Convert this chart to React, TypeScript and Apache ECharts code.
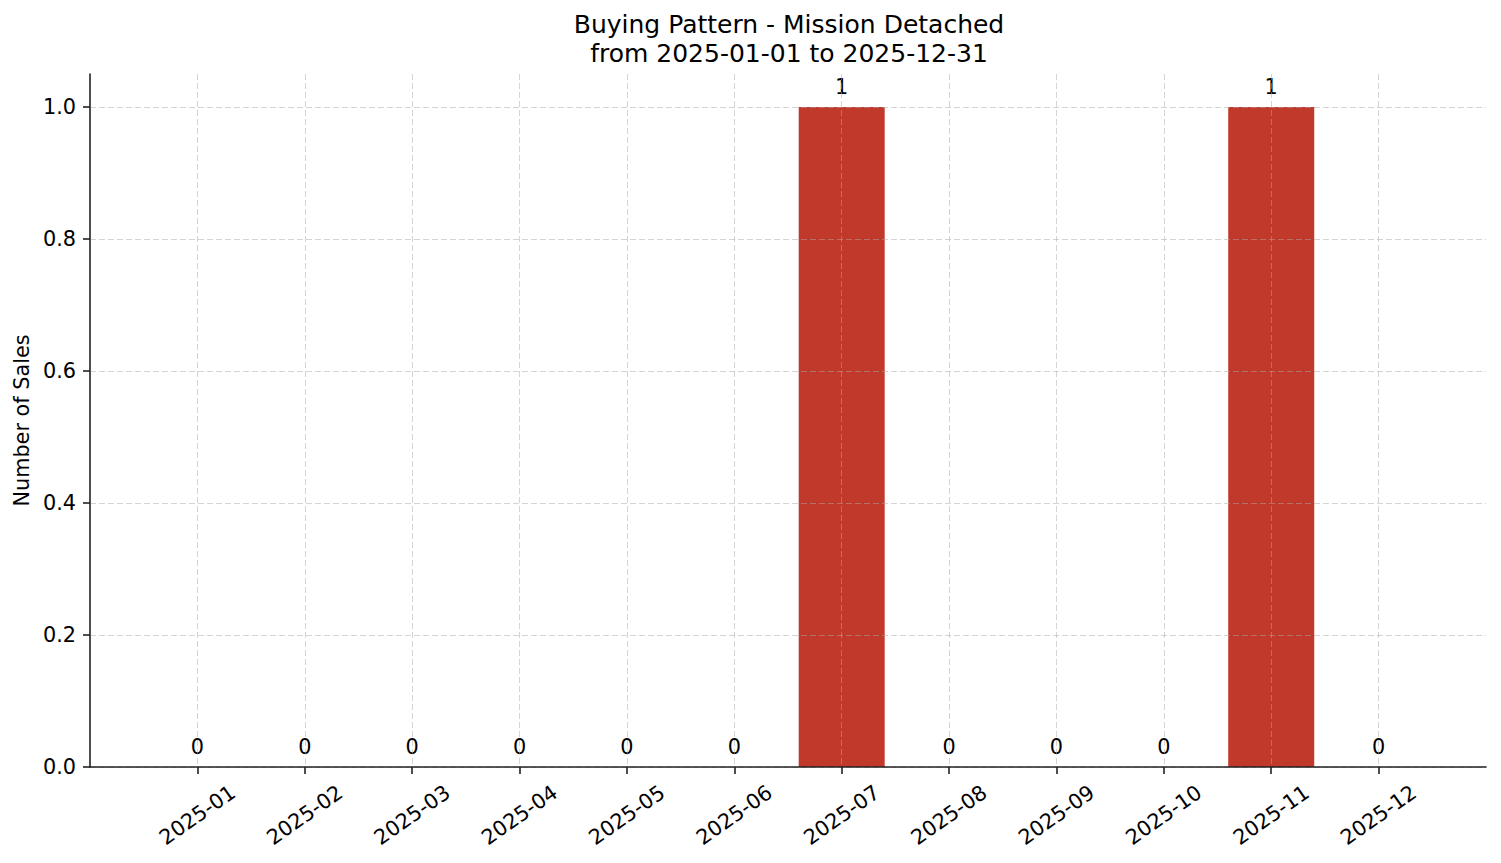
import React, { useEffect, useRef } from "react";
import * as echarts from "echarts";

const months = [
  "2025-01", "2025-02", "2025-03", "2025-04", "2025-05", "2025-06",
  "2025-07", "2025-08", "2025-09", "2025-10", "2025-11", "2025-12",
];
const sales = [0, 0, 0, 0, 0, 0, 1, 0, 0, 0, 1, 0];
const yTicks = [0, 0.2, 0.4, 0.6, 0.8, 1.0];
const titleLines = ["Buying Pattern - Mission Detached", "from 2025-01-01 to 2025-12-31"];

const FONT = "DejaVu Sans";

export default function App() {
  const ref = useRef<HTMLDivElement>(null);
  useEffect(() => {
    document.body.style.margin = "0";
    const chart = echarts.init(ref.current!, null, { renderer: "svg" });
    // pad categories so the outer margins match the reference layout
    const cats = ["", ...months, ""];
    const data: any[] = ["-", ...sales, "-"];
    const inner = (i: number) => i > 0 && i < cats.length - 1;
    chart.setOption({
      animation: false,
      backgroundColor: "#ffffff",
      textStyle: { fontFamily: FONT },
      title: {
        text: titleLines.join("\n"),
        left: 784,
        textAlign: "center",
        top: 5,
        textStyle: { fontFamily: FONT, fontSize: 25, fontWeight: "normal", color: "#000", lineHeight: 29 },
      },
      grid: { left: 90, right: 15, top: 74, bottom: 96, containLabel: false },
      xAxis: {
        type: "category",
        data: cats,
        boundaryGap: false,
        z: 3,
        axisLine: { show: true, lineStyle: { color: "#222", width: 1.6 } },
        axisTick: { show: true, interval: (i: number) => inner(i), length: 7, lineStyle: { color: "#222", width: 1.6 } },
        axisLabel: {
          interval: (i: number) => inner(i),
          rotate: 35,
          align: "center",
          verticalAlign: "middle",
          margin: 48,
          fontSize: 20.8,
          fontFamily: FONT,
          color: "#000",
        },
        splitLine: {
          show: true,
          interval: (i: number) => inner(i),
          lineStyle: { color: "rgba(170,170,170,0.5)", width: 1, type: [6, 3] },
        },
      },
      yAxis: {
        type: "value",
        min: 0,
        max: 1.05,
        interval: 0.2,
        z: 3,
        name: "Number of Sales",
        nameLocation: "middle",
        nameGap: 57,
        nameTextStyle: { fontSize: 20.8, fontFamily: FONT, color: "#000" },
        axisLine: { show: true, lineStyle: { color: "#222", width: 1.6 } },
        axisTick: { show: true, length: 7, customValues: yTicks, lineStyle: { color: "#222", width: 1.6 } },
        axisLabel: {
          customValues: yTicks,
          margin: 14,
          fontSize: 20.8,
          fontFamily: FONT,
          color: "#000",
          formatter: (v: number) => v.toFixed(1),
        },
        splitLine: {
          show: true,
          lineStyle: { color: "rgba(170,170,170,0.5)", width: 1, type: [6, 3] },
        },
      },
      series: [
        {
          type: "bar",
          data,
          barWidth: 86,
          itemStyle: { color: "#c0392b" },
          label: {
            show: true,
            position: "top",
            distance: 10,
            fontSize: 20.8,
            fontFamily: FONT,
            color: "#000",
            formatter: (p: any) => String(p.value),
          },
        },
      ],
    });
    return () => chart.dispose();
  }, []);
  return <div ref={ref} style={{ width: 1501, height: 863 }} />;
}
